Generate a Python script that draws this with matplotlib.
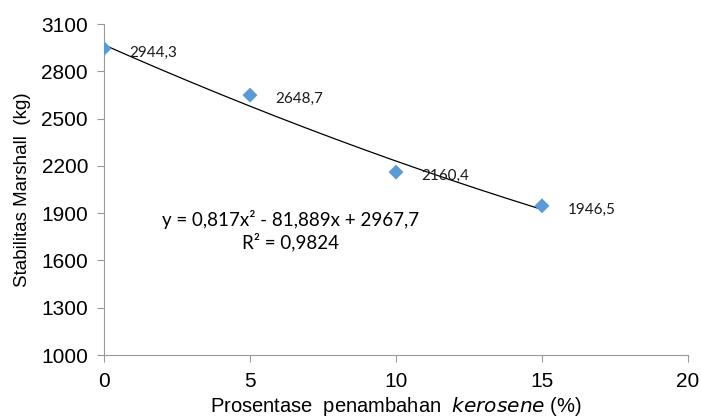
import numpy as np
import matplotlib
matplotlib.use("Agg")
from matplotlib import pyplot as plt

# data
kerosene = [0, 5, 10, 15]
stabilitas = [2944.3, 2648.7, 2160.4, 1946.5]
labels = ["2944,3", "2648,7", "2160,4", "1946,5"]

plt.rcParams['font.family'] = ['Liberation Sans', 'DejaVu Sans']

fig = plt.figure(figsize=(7.01, 4.19), dpi=100)
ax = fig.add_axes([104 / 701, 64 / 419, 584 / 701, 331 / 419])

# polynomial trendline (order 2)
coef = np.polyfit(kerosene, stabilitas, 2)
xs = np.linspace(0, 15, 200)
ax.plot(xs, np.polyval(coef, xs), color='black', lw=0.9, zorder=2)

ax.scatter(kerosene, stabilitas, marker='D', s=58, color='#5B9BD5',
           edgecolors='none', zorder=3)

for x, y, t in zip(kerosene, stabilitas, labels):
    ax.annotate(t, (x, y), xytext=(18.5, -3), textcoords='offset points',
                fontsize=11, family=['Lato', 'DejaVu Sans'],
                va='center', ha='left', color='#1a1a1a')

ax.text(6.4, 1857, "y = 0,817x² - 81,889x + 2967,7",
        fontsize=13.5, family=['Lato', 'DejaVu Sans'], ha='center', va='center')
ax.text(6.4, 1715, "R² = 0,9824",
        fontsize=13.5, family=['Lato', 'DejaVu Sans'], ha='center', va='center')

ax.set_xlim(0, 20)
ax.set_ylim(1000, 3100)
ax.set_xticks([0, 5, 10, 15, 20])
ax.set_yticks(np.arange(1000, 3101, 300))
ax.tick_params(labelsize=15, length=5, color='#999999')
ax.tick_params(axis='y', pad=6.5)
ax.tick_params(axis='x', pad=7)

for s in ['top', 'right']:
    ax.spines[s].set_visible(False)
for s in ['left', 'bottom']:
    ax.spines[s].set_color('#999999')

ax.set_xlabel("Prosentase  penambahan  $\\it{kerosene}$ (%)", fontsize=14.5, labelpad=3)
ax.set_ylabel("Stabilitas Marshall  (kg)", fontsize=13.5, labelpad=7)

fig.savefig("out.png", dpi=100)
